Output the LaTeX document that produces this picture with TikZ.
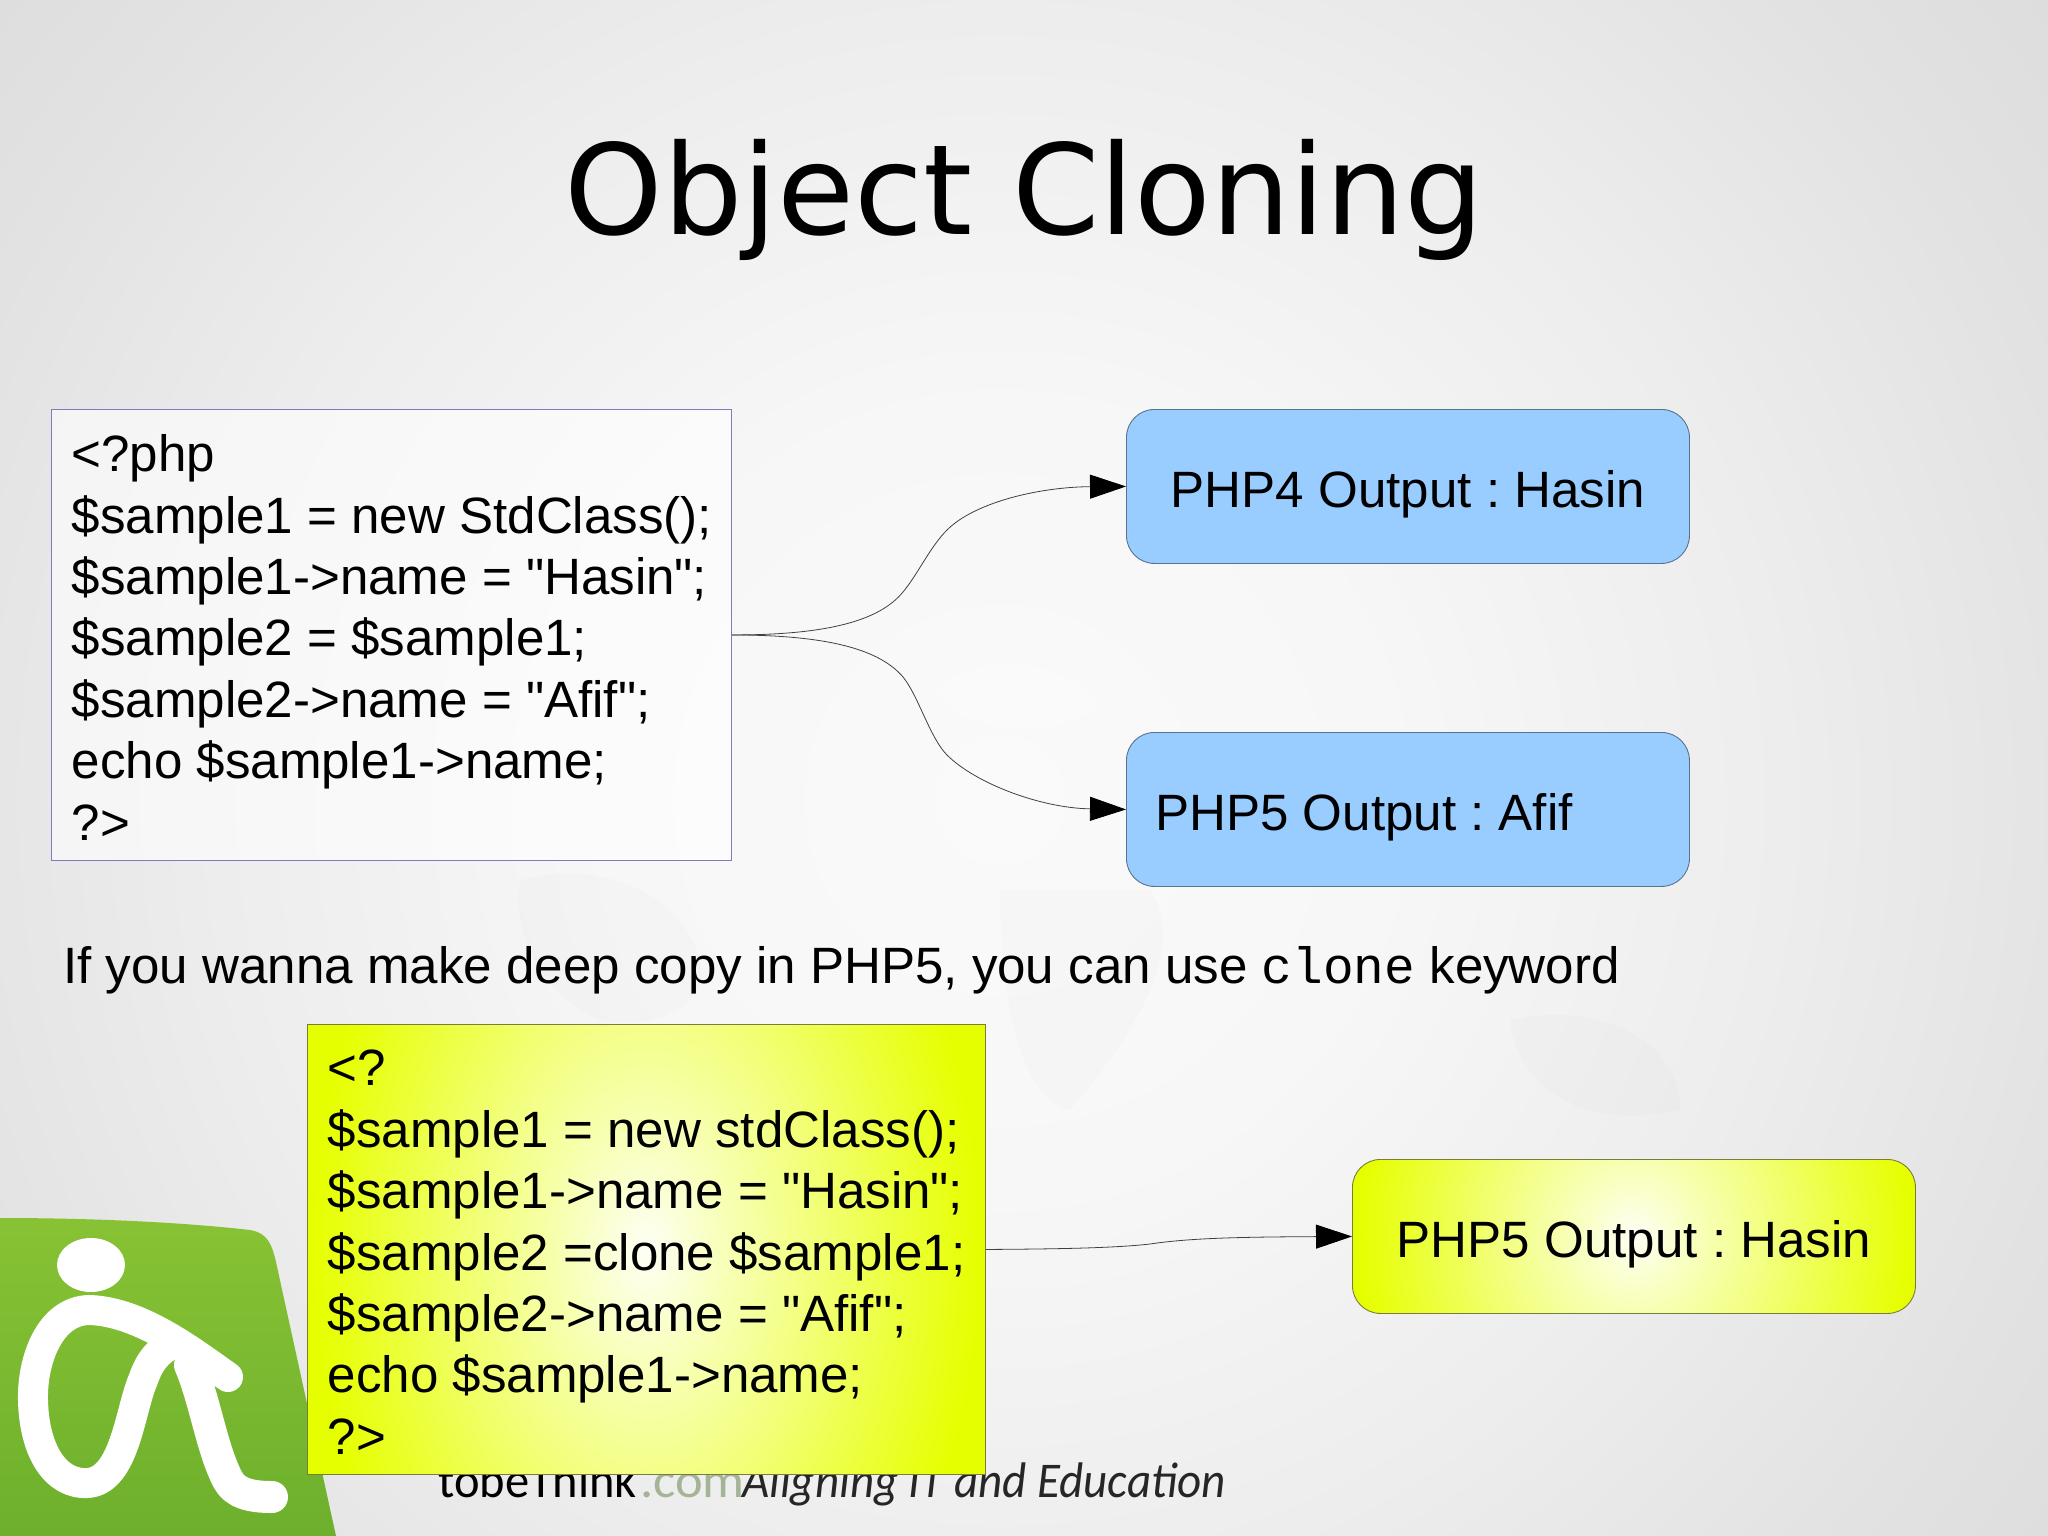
\documentclass[tikz,border=0pt]{standalone}
\usepackage{fontspec}
\newfontfamily\mainf{Liberation Sans}
\newfontfamily\titlefont{DejaVu Sans}
\newfontfamily\monofont{Liberation Mono}
\newfontfamily\logofont{Carlito}
\usetikzlibrary{arrows.meta,shadings,fadings}
\definecolor{bluebox}{HTML}{99CCFF}
\definecolor{yel}{HTML}{E6FF00}
\definecolor{greenA}{HTML}{88C234}
\definecolor{greenB}{HTML}{6DB02D}
\definecolor{borderA}{RGB}{125,125,190}
\definecolor{borderB}{RGB}{120,125,60}
\definecolor{borderC}{RGB}{90,115,140}
\definecolor{dotgrey}{RGB}{165,180,150}
\definecolor{bgA}{HTML}{FAFAFA}
\definecolor{bgB}{HTML}{F7F7F7}
\definecolor{bgC}{HTML}{EDEDED}
\definecolor{bgD}{HTML}{E2E2E2}
\definecolor{bgE}{HTML}{DBDBDB}
\pgfdeclareradialshading{bgshade}{\pgfpoint{0bp}{0bp}}{color(0bp)=(bgA);color(7bp)=(bgB);color(14bp)=(bgC);color(20bp)=(bgD);color(25bp)=(bgE);color(50bp)=(bgE)}
\pgfdeclareradialshading{yelshade}{\pgfpoint{0bp}{0bp}}{color(0bp)=(white!96!yel);color(5bp)=(white!75!yel);color(13bp)=(white!45!yel);color(24.5bp)=(yel);color(50bp)=(yel)}
\frenchspacing
\tikzset{
 every node/.style={font=\mainf\fontsize{51.1}{61.4}\selectfont,text=black,inner sep=0pt},
 codebox/.style={rectangle,draw=#1,line width=0.9pt,minimum width=680pt,minimum height=451pt},
 codetext/.style={align=left,anchor=north west},
 outbox/.style={rectangle,rounded corners=28pt,draw=#1,line width=0.9pt,minimum width=563pt,minimum height=154pt},
 link/.style={draw=black!75,line width=0.8pt,-{Triangle[length=36pt,width=24pt,black]}},
}
\begin{document}
\begin{tikzpicture}[x=1pt,y=-1pt]
\useasboundingbox (0,0) rectangle (2048,1536);
% background
\begin{scope}
\clip (0,0) rectangle (2048,1536);
\shade[shading=bgshade] (-400,-600) rectangle (2400,2200);
\fill[black,opacity=0.012] (520,880) .. controls (600,860) and (680,890) .. (700,960) .. controls (710,1010) and (650,1030) .. (600,1020) .. controls (550,1000) and (510,940) .. cycle;
\fill[black,opacity=0.012] (1000,890) -- (1150,890) .. controls (1190,950) and (1130,1040) .. (1070,1110) .. controls (1020,1100) and (1000,1000) .. cycle;
\fill[black,opacity=0.012] (1510,1020) .. controls (1600,1000) and (1680,1040) .. (1680,1110) .. controls (1600,1130) and (1520,1100) .. cycle;
\fill[white,opacity=0.2] (933,690) .. controls (980,650) and (1060,660) .. (1100,700) .. controls (1080,740) and (960,740) .. cycle;
\end{scope}
% logo
\shade[top color=greenA,bottom color=greenB] (0,1218) .. controls (90,1218) and (180,1222) .. (250,1230) .. controls (268,1233) and (272,1245) .. (276,1262) -- (336,1536) -- (0,1536) -- cycle;
\fill[white] (91,1265) ellipse (34pt and 27pt);
\draw[white,line width=30pt,line cap=round,line join=round]
  (228,1377) .. controls (190,1350) and (140,1312) .. (90,1310)
  .. controls (50,1310) and (32,1360) .. (33,1400)
  .. controls (34,1450) and (55,1485) .. (88,1483)
  .. controls (125,1480) and (130,1410) .. (143,1380)
  .. controls (150,1360) and (158,1352) .. (170,1345);
\draw[white,line width=32pt,line join=round,line cap=round] (190,1365) .. controls (205,1400) and (212,1450) .. (228,1480) .. controls (235,1493) and (250,1497) .. (272,1497);
% footer text
\node[font=\logofont\fontsize{50}{50}\selectfont,anchor=base west,xscale=0.97] (brand) at (438,1497) {tobeThink};
\node[font=\logofont\fontsize{50}{50}\selectfont,anchor=base west,xscale=1.05,text=dotgrey] (dotcom) at (640,1497) {.com};
\node[font=\logofont\itshape\fontsize{50}{50}\selectfont,anchor=base west,xscale=0.94,text=black!85] (tag) at (742,1497) {Aligning IT and Education};
% title
\node[font=\titlefont\fontsize{125.3}{130}\selectfont,anchor=base] (title) at (1024.5,234) {Object Cloning};
% code box 1
\node[codebox=borderA,fill=white,fill opacity=0.6,text opacity=1,anchor=north west] (code1) at (51,409) {};
\node[codetext] (code1t) at (71.5,434.5) {<?php\\ \$sample1 = new StdClass();\\ \$sample1->name = "Hasin";\\ \$sample2 = \$sample1;\\ \$sample2->name = "Afif";\\ echo \$sample1->name;\\ ?>};
% outputs
\node[outbox=borderC,fill=bluebox,anchor=north west] (php4) at (1126,409) {};
\node[anchor=base] (php4t) at (1408,507) {PHP4 Output : Hasin};
\node[outbox=borderC,fill=bluebox,anchor=north west] (php5) at (1126,732) {};
\node[anchor=base west] (php5t) at (1155,830) {PHP5 Output : Afif};
% sentence
\node[anchor=base west] (sent) at (63,983) {If you wanna make deep copy in PHP5, you can use {\monofont\fontsize{51.1}{50}\selectfont clone} keyword};
% code box 2
\node[codebox=borderB,anchor=north west,minimum width=678pt,minimum height=450pt,path picture={\shade[shading=yelshade] (-339pt,-520pt) rectangle (339pt,520pt);}] (code2) at (307,1024) {};
\node[codetext] (code2t) at (327.5,1050) {<?\\ \$sample1 = new stdClass();\\ \$sample1->name = "Hasin";\\ \$sample2 =clone \$sample1;\\ \$sample2->name = "Afif";\\ echo \$sample1->name;\\ ?>};
% output 3
\node[outbox=borderB,anchor=north west,path picture={\shade[shading=yelshade] (-282pt,-300pt) rectangle (282pt,300pt);}] (php5b) at (1352,1159) {};
\node[anchor=base] (php5bt) at (1634,1257) {PHP5 Output : Hasin};
% connectors
\draw[link] (code1.east) .. controls (830,635) and (880,620) .. (903,592) .. controls (918,574) and (930,547) .. (947,530) .. controls (975,502) and (1040,487) .. (php4.west);
\draw[link] (code1.east) .. controls (830,635) and (880,650) .. (903,677) .. controls (918,695) and (930,738) .. (947,755) .. controls (975,783) and (1040,808) .. (php5.west);
\draw[link] (code2.east) .. controls (1060,1249) and (1115,1248) .. (1150,1244) .. controls (1190,1238) and (1240,1237) .. (php5b.west);
\end{tikzpicture}
\end{document}
